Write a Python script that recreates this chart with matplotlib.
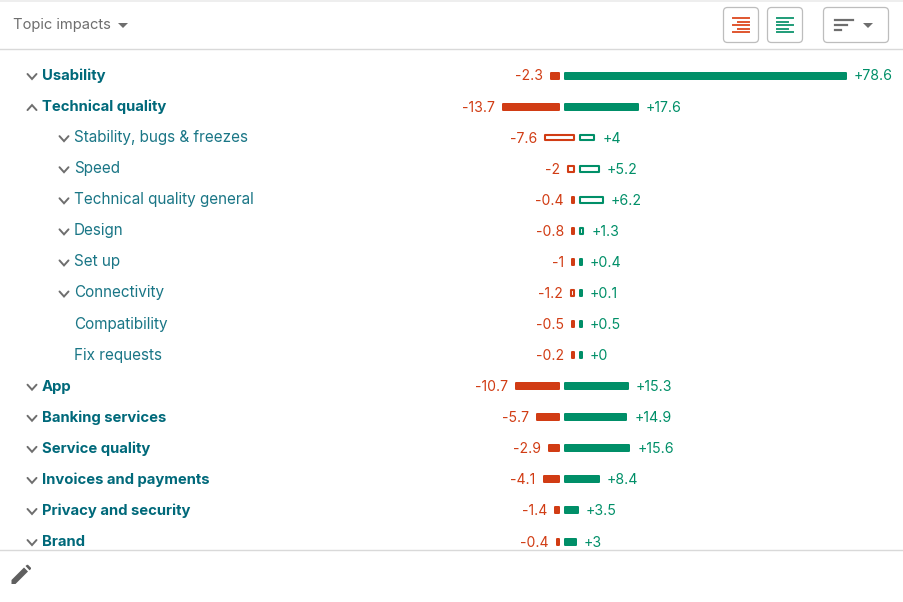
import matplotlib.pyplot as plt
from matplotlib.patches import FancyBboxPatch, Polygon

plt.rcParams["font.family"] = ["Inter", "DejaVu Sans"]

# Topic rows, top to bottom
topics = [
    "Usability", "Technical quality", "Stability, bugs & freezes", "Speed",
    "Technical quality general", "Design", "Set up", "Connectivity",
    "Compatibility", "Fix requests", "App", "Banking services",
    "Service quality", "Invoices and payments", "Privacy and security", "Brand",
]
negative_values = [-2.3, -13.7, -7.6, -2, -0.4, -0.8, -1, -1.2, -0.5, -0.2, -10.7, -5.7, -2.9, -4.1, -1.4, -0.4]
positive_values = [78.6, 17.6, 4, 5.2, 6.2, 1.3, 0.4, 0.1, 0.5, 0, 15.3, 14.9, 15.6, 8.4, 3.5, 3]
is_subtopic = [False, False, True, True, True, True, True, True, True, True, False, False, False, False, False, False]
chevrons = ["down", "up", "down", "down", "down", "down", "down", "down", None, None, "down", "down", "down", "down", "down", "down"]
negative_outlined = [False, False, True, True, False, False, False, True, False, False, False, False, False, False, False, False]
positive_outlined = [False, False, True, True, True, True, False, False, False, False, False, False, False, False, False, False]

RED = "#d13c14"
GREEN = "#008f68"
TEAL = "#00697a"
TEAL_LIGHT = "#1a7686"
GREY = "#6e6e6e"
BORDER = "#bdbdbd"
LINE = "#d9d9d9"

BAR_CAP = 66.5  # long bars stop here
MIN_BAR = 4


def draw_bar(ax, x0, width, y, color, outlined):
    # barh with a round join gives the rounded corners
    if outlined:
        ax.barh(y, width - 2, left=x0 + 1, height=5.6, facecolor="white",
                edgecolor=color, linewidth=1.5, joinstyle="round", zorder=3)
    else:
        ax.barh(y, max(width - 2, 0.5), left=x0 + 1, height=6, facecolor=color,
                edgecolor=color, linewidth=1.44, joinstyle="round", zorder=3)


def draw_chevron(ax, x, y, direction, color=GREY):
    dy = 2.5 if direction == "down" else -2.5
    ax.plot([x - 4.5, x, x + 4.5], [y - dy, y + dy, y - dy], color=color, lw=1.4,
            solid_capstyle="round", solid_joinstyle="miter", zorder=3)


def draw_button(ax, x0, y0, w, h):
    ax.add_patch(FancyBboxPatch((x0 + 3, y0 + 3), w - 6, h - 6, boxstyle="round,pad=3,rounding_size=4",
                                facecolor="white", edgecolor=BORDER, linewidth=0.9, zorder=2))


fig = plt.figure(figsize=(9.04, 6.02), dpi=100)
ax = fig.add_axes([0, 0, 1, 1])
ax.set_xlim(0, 904)
ax.set_ylim(602, 0)
ax.axis("off")

# Header and footer
ax.fill_between([0, 904], 0, 2, color="#eeeeee", lw=0)
ax.plot([0, 904], [49, 49], color=LINE, lw=1)
ax.plot([0, 904], [550, 550], color=LINE, lw=1)
ax.text(13, 29, "Topic impacts", fontsize=10.6, color=GREY, va="baseline", ha="left")
ax.add_patch(Polygon([(118, 23), (128, 23), (123, 28)], color=GREY, lw=0))

# Toolbar buttons
draw_button(ax, 723.5, 7.5, 35, 35)
draw_button(ax, 767.5, 7.5, 35, 35)
draw_button(ax, 823.5, 7.5, 65, 35)
for i, y in enumerate([18, 21.5, 25, 28.5, 32]):
    short = i % 2 == 1
    ax.plot([738 if short else 733, 749], [y, y], color="#e0562f", lw=1.4, zorder=3)
    ax.plot([777, 788 if short else 793], [y, y], color="#1f9c78", lw=1.4, zorder=3)
for y, x1 in zip([20, 25, 30], [853, 847, 841]):
    ax.plot([835, x1], [y, y], color=GREY, lw=1.6, zorder=3)
ax.add_patch(Polygon([(863, 23), (873, 23), (868, 28)], color=GREY, lw=0, zorder=3))

# Pencil icon
ax.add_patch(Polygon([(11.5, 584), (11.5, 580), (24, 567.5), (28, 571.5), (15.5, 584)], color="#5f5f5f", lw=0))
ax.add_patch(Polygon([(25.5, 566), (27, 564.8), (28, 564.8), (31, 567.8), (31, 569), (29.5, 570.3)], color="#5f5f5f", lw=0))

# Rows
for i, topic in enumerate(topics):
    y = 75.5 + i * 31.07
    sub = is_subtopic[i]
    zero_left = 575 if sub else 560
    zero_right = 579 if sub else 564
    scale = 4.05 if sub else 4.25

    if chevrons[i]:
        draw_chevron(ax, 64 if sub else 32, y + 1, chevrons[i])
    ax.text(74 if sub else 42, y + 4.5, topic, fontsize=11 if sub else 10.7,
            color=TEAL_LIGHT if sub else TEAL,
            fontweight="normal" if sub else "bold", va="baseline", ha="left")

    neg_w = max(abs(negative_values[i]) * scale, MIN_BAR)
    pos_w = max(min(positive_values[i], BAR_CAP) * scale, MIN_BAR)
    draw_bar(ax, zero_left - neg_w, neg_w, y, RED, negative_outlined[i])
    draw_bar(ax, zero_right, pos_w, y, GREEN, positive_outlined[i])

    ax.text(zero_left - neg_w - 7, y + 5, f"{negative_values[i]:g}", fontsize=10.1, color=RED,
            va="baseline", ha="right")
    ax.text(zero_right + pos_w + 7, y + 5, f"+{positive_values[i]:g}", fontsize=10.2, color=GREEN,
            va="baseline", ha="left")

fig.savefig("out.png", dpi=100)
